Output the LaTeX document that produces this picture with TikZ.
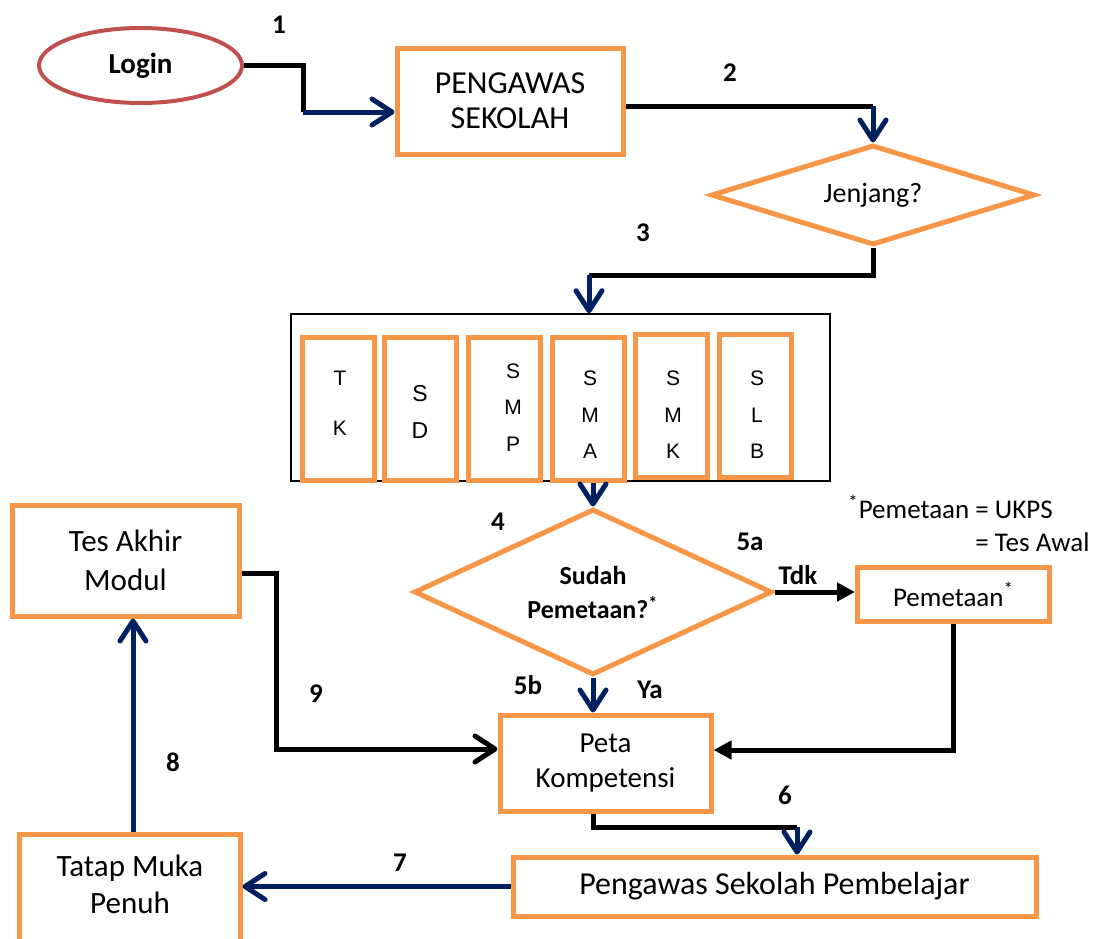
\documentclass[tikz,border=0pt]{standalone}
\usepackage{fontspec}
\setmainfont{Carlito}
\newfontfamily\arialf{Liberation Sans}
\usetikzlibrary{shapes.geometric, arrows.meta}
\definecolor{ora}{HTML}{F79646}
\definecolor{navyc}{HTML}{002060}
\definecolor{redc}{HTML}{C0504D}
\tikzset{
  box/.style={rectangle, draw=ora, line width=2.5pt, inner sep=0pt, align=center},
  dia/.style={diamond, draw=ora, line width=2.5pt, inner sep=0pt, align=center},
  levbox/.style={rectangle, draw=ora, line width=2.5pt, inner sep=0pt, minimum width=36pt, minimum height=71.5pt},
  levtxt/.style={font=\arialf\fontsize{10.5}{18.25}\selectfont, align=center, inner sep=0pt},
  lbl/.style={font=\bfseries\fontsize{13.5}{16}\selectfont, inner sep=0pt},
  blk/.style={line width=2.5pt, draw=black},
  nv/.style={line width=2.5pt, draw=navyc},
  myb/.tip={Straight Barb[length=10pt,width=13pt,round]},
  tri/.tip={Triangle[length=9pt,width=9pt]}
}
\begin{document}
\begin{tikzpicture}[x=0.5pt,y=-0.5pt]
\useasboundingbox (0,0) rectangle (1093,938);

% nodes
\node[ellipse, draw=redc, line width=2pt, inner sep=0pt, minimum width=101.5pt, minimum height=37.5pt,
      font=\bfseries\fontsize{14.5}{17}\selectfont] (login) at (140.5,65.5) {Login};
\node[box, minimum width=113pt, minimum height=53pt, font=\fontsize{16}{17.5}\selectfont] (peng) at (510,101) {PENGAWAS\\SEKOLAH};
\node[dia, shape aspect=3, minimum width=162pt, minimum height=50pt, font=\fontsize{14}{17}\selectfont] (jen) at (873,195) {Jenjang?};

\node[rectangle, draw=black, line width=0.75pt, minimum width=269.5pt, minimum height=83.5pt, inner sep=0pt] (levels) at (560.5,397.5) {};
\node[levbox] (tk)  at (338,408.5) {};
\node[levbox] (sd)  at (420,408.5) {};
\node[levbox] (smp) at (504.5,408.5) {};
\node[levbox] (sma) at (588.5,408.5) {};
\node[levbox] (smk) at (671,406) {};
\node[levbox] (slb) at (755,406) {};
\node[levtxt, font=\arialf\fontsize{10.5}{25}\selectfont] (tkt) at (340,403) {T\\K};
\node[levtxt, font=\arialf\fontsize{11.5}{18.5}\selectfont] (sdt) at (420,411.5) {S\\D};
\node[levtxt] (smpt) at (513,407.5) {S\\M\\P};
\node[levtxt] (smat) at (590,415) {S\\M\\A};
\node[levtxt] (smkt) at (673,415) {S\\M\\K};
\node[levtxt] (slbt) at (757,415) {S\\L\\B};

\node[dia, shape aspect=2, minimum width=179pt, minimum height=83pt, font=\bfseries\fontsize{13}{17}\selectfont] (sudah) at (593,592) {Sudah\\Pemetaan?\textsuperscript{*}};
\node[box, minimum width=96pt, minimum height=27pt, font=\fontsize{13.5}{16}\selectfont] (pem) at (953.5,594.5) {Pemetaan\textsuperscript{*}};
\node[box, minimum width=105.5pt, minimum height=48pt, font=\fontsize{14.5}{17.5}\selectfont] (peta) at (605.5,763) {Peta\\Kompetensi};
\node[box, minimum width=113.5pt, minimum height=55.5pt, font=\fontsize{15.5}{19.5}\selectfont] (tes) at (125.5,560.5) {Tes Akhir\\Modul};
\node[box, minimum width=110.5pt, minimum height=56pt] (tatap) at (129.5,890) {};
\node[align=center, inner sep=0pt, font=\fontsize{15.5}{18.5}\selectfont] (tatapt) at (130,884) {Tatap Muka\\Penuh};
\node[box, minimum width=261.5pt, minimum height=29.5pt, font=\fontsize{16}{19}\selectfont] (psp) at (774.5,886.5) {Pengawas Sekolah Pembelajar};

% footnote
\node[anchor=west, inner sep=0pt, font=\fontsize{13.5}{16}\selectfont] (fn1) at (848,507) {\textsuperscript{*}Pemetaan = UKPS};
\node[anchor=west, inner sep=0pt, font=\fontsize{13.5}{16}\selectfont] (fn2) at (975,542) {= Tes Awal};

% labels
\node[lbl] (l1) at (279,25) {1};
\node[lbl] (l2) at (730,73) {2};
\node[lbl] (l3) at (643,233) {3};
\node[lbl] (l4) at (498,522) {4};
\node[lbl] (l5a) at (750,542) {5a};
\node[lbl] (ltdk) at (798,575) {Tdk};
\node[lbl] (l5b) at (528,685) {5b};
\node[lbl] (lya) at (650,690) {Ya};
\node[lbl] (l6) at (785,795) {6};
\node[lbl] (l7) at (400,863) {7};
\node[lbl] (l8) at (173,762) {8};
\node[lbl] (l9) at (316,694) {9};

% coordinates
\coordinate (c1) at (303,112);
\coordinate (c2) at (873,106);
\coordinate (c3) at (589,275);
\coordinate (y5) at (0,750);
\coordinate (c9a) at (276,573);
\coordinate (c9) at (276,749);
\coordinate (c8) at (133,0);
\coordinate (c6a) at (593,827);
\coordinate (c6) at (797,827);

% connectors
\draw[blk] (login.east) -| (c1);
\draw[nv, -myb] (c1) -- (c1 -| peng.west);
\draw[blk] (c2 -| peng.east) -- (c2);
\draw[nv, -myb] (c2) -- (jen.north);
\draw[blk] (jen.south) |- (c3);
\draw[nv, -myb] (c3) -- (c3 |- levels.north);
\draw[nv, -myb] (sudah.north |- sma.south) -- (sudah.north);
\draw[blk, -tri] (sudah.east) -- (pem.west |- sudah.east);
\draw[nv, -myb] (sudah.south) -- (sudah.south |- peta.north);
\draw[blk, -tri] (pem.south) |- (peta.east |- y5);
\draw[blk, -myb] (c9a -| tes.east) -- (c9a) -- (c9) -- (c9 -| peta.west);
\draw[nv, -myb] (tatap.north -| c8) -- (tes.south -| c8);
\draw[blk] (peta.south -| c6a) -- (c6a) -- (c6);
\draw[nv, -myb] (c6) -- (c6 |- psp.north);
\draw[nv, -myb] (psp.west) -- (tatap.east |- psp.west);
\end{tikzpicture}
\end{document}
